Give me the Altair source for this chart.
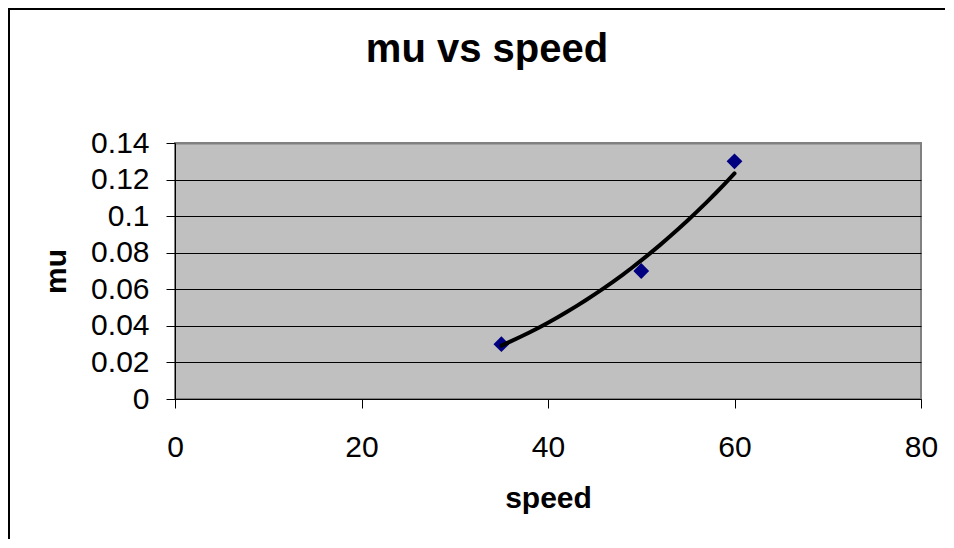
import altair as alt
import pandas as pd

speed = [35, 50, 60]
mu = [0.03, 0.07, 0.13]
x_ticks = [0, 20, 40, 60, 80]
y_ticks = [0, 0.02, 0.04, 0.06, 0.08, 0.1, 0.12, 0.14]

FONT = "Liberation Sans"
df = pd.DataFrame({"speed": speed, "mu": mu})

W, H = 746, 256
PL, PT, PR, PB = 167, 135, 24, 140

x_enc = alt.X(
    "speed:Q",
    scale=alt.Scale(domain=[0, 80], nice=False),
    axis=alt.Axis(
        values=x_ticks, grid=False, domainColor="black", domainWidth=1,
        tickColor="black", tickSize=9, labelFontSize=30, labelFont=FONT,
        labelColor="black", labelPadding=24, labelOverlap=False, labelFlush=False,
        title="speed", titleFont=FONT,
        titleFontSize=30, titleFontWeight="bold", titleColor="black",
        titleBaseline="alphabetic", titleX=W / 2, titleY=108,
    ),
)
y_enc = alt.Y(
    "mu:Q",
    scale=alt.Scale(domain=[0, 0.14], nice=False),
    axis=alt.Axis(
        values=y_ticks, format="~g", grid=True,
        gridColor={"condition": {"test": "datum.value >= 0.139", "value": "#808080"}, "value": "black"},
        gridWidth={"condition": {"test": "datum.value >= 0.139", "value": 2}, "value": 1},
        domainColor="black", domainWidth=1, tickColor="black", tickSize=9,
        labelFontSize=30, labelFont=FONT, labelColor="black", labelPadding=17,
        labelOverlap=False, labelFlush=False,
        title="mu", titleFont=FONT, titleFontSize=30, titleFontWeight="bold",
        titleColor="black", titleBaseline="alphabetic", titleX=-110, titleY=H / 2,
    ),
)

base = alt.Chart(df)

points = base.mark_point(shape="diamond", filled=True, size=250, color="#000080", opacity=1).encode(
    x=x_enc, y=y_enc
)

trend = base.transform_regression("speed", "mu", method="pow").mark_line(
    color="black", strokeWidth=4, strokeCap="round"
).encode(x=x_enc, y=y_enc)

border = alt.Chart(alt.Data(values=[{"a": 1}])).mark_rect(
    fill=None, stroke="black", strokeWidth=2
).encode(
    x=alt.value(-PL + 1), x2=alt.value(W + PR + 20),
    y=alt.value(-PT + 1), y2=alt.value(H + PB + 20),
)

chart = alt.layer(points, trend, border).properties(
    width=W, height=H,
    padding={"left": PL, "top": PT, "right": PR, "bottom": PB},
    autosize="none",
    title=alt.Title("mu vs speed", font=FONT, fontSize=40, fontWeight="bold",
                    color="black", anchor="middle", frame="group", dx=-61, offset=-62),
).configure(
    background="white",
    view=alt.ViewConfig(fill="#C0C0C0", stroke="#808080", strokeWidth=2),
)

chart.save("out.html", embed_options={"renderer": "svg", "actions": False})
